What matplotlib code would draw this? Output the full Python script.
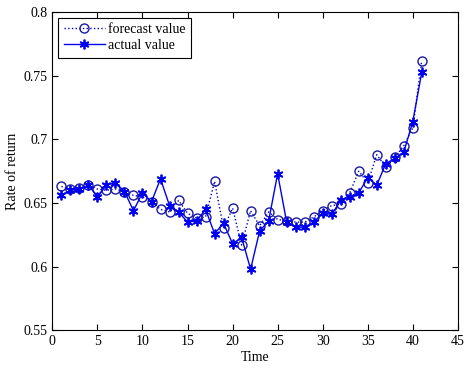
import numpy as np
import matplotlib
matplotlib.use('Agg')
import matplotlib.pyplot as plt

plt.rcParams['font.family'] = ['Liberation Serif', 'DejaVu Serif']

# data
time = list(range(1, 42))
forecast = [0.663, 0.661, 0.662, 0.664, 0.661, 0.660, 0.661, 0.659, 0.656, 0.655,
            0.651, 0.645, 0.643, 0.652, 0.642, 0.638, 0.639, 0.667, 0.630, 0.646,
            0.617, 0.644, 0.632, 0.643, 0.637, 0.636, 0.635, 0.635, 0.639, 0.644,
            0.648, 0.649, 0.658, 0.675, 0.666, 0.688, 0.678, 0.686, 0.695, 0.709,
            0.762]
actual = [0.656, 0.660, 0.661, 0.664, 0.655, 0.664, 0.666, 0.659, 0.644, 0.658,
          0.651, 0.669, 0.648, 0.643, 0.635, 0.636, 0.645, 0.626, 0.634, 0.618,
          0.623, 0.598, 0.628, 0.636, 0.673, 0.635, 0.631, 0.631, 0.635, 0.642,
          0.641, 0.652, 0.655, 0.658, 0.670, 0.664, 0.681, 0.685, 0.690, 0.714,
          0.753]

fig = plt.figure(figsize=(4.72, 3.69), dpi=100)
ax = fig.add_axes([0.111, 0.105, 0.859, 0.862])

ax.plot(time, forecast, ':', color='#0000cc', marker='o', markersize=6.5,
        markerfacecolor='none', markeredgecolor='#1a1aa0', linewidth=1,
        label='forecast value')
ax.plot(time, actual, '-', color='#0000ee', marker=(6, 2, 0), markersize=7,
        markeredgewidth=1.3, linewidth=1, label='actual value')

ax.set_xlim(0, 45)
ax.set_ylim(0.55, 0.8)
ax.set_xticks(range(0, 46, 5))
ax.set_yticks([0.55, 0.6, 0.65, 0.7, 0.75, 0.8])
ax.set_yticklabels(['0.55', '0.6', '0.65', '0.7', '0.75', '0.8'])
ax.tick_params(direction='in', top=True, right=True, labelsize=10, length=4)
ax.set_xlabel('Time', fontsize=10, labelpad=2)
ax.set_ylabel('Rate of return', fontsize=10, labelpad=3)

leg = ax.legend(loc='upper left', fontsize=10, numpoints=1, handlelength=3,
                fancybox=False, framealpha=1, edgecolor='black',
                borderaxespad=0.4, labelspacing=0.2, handletextpad=0.2)
leg.get_frame().set_linewidth(0.8)

fig.savefig('out.png', dpi=100)
